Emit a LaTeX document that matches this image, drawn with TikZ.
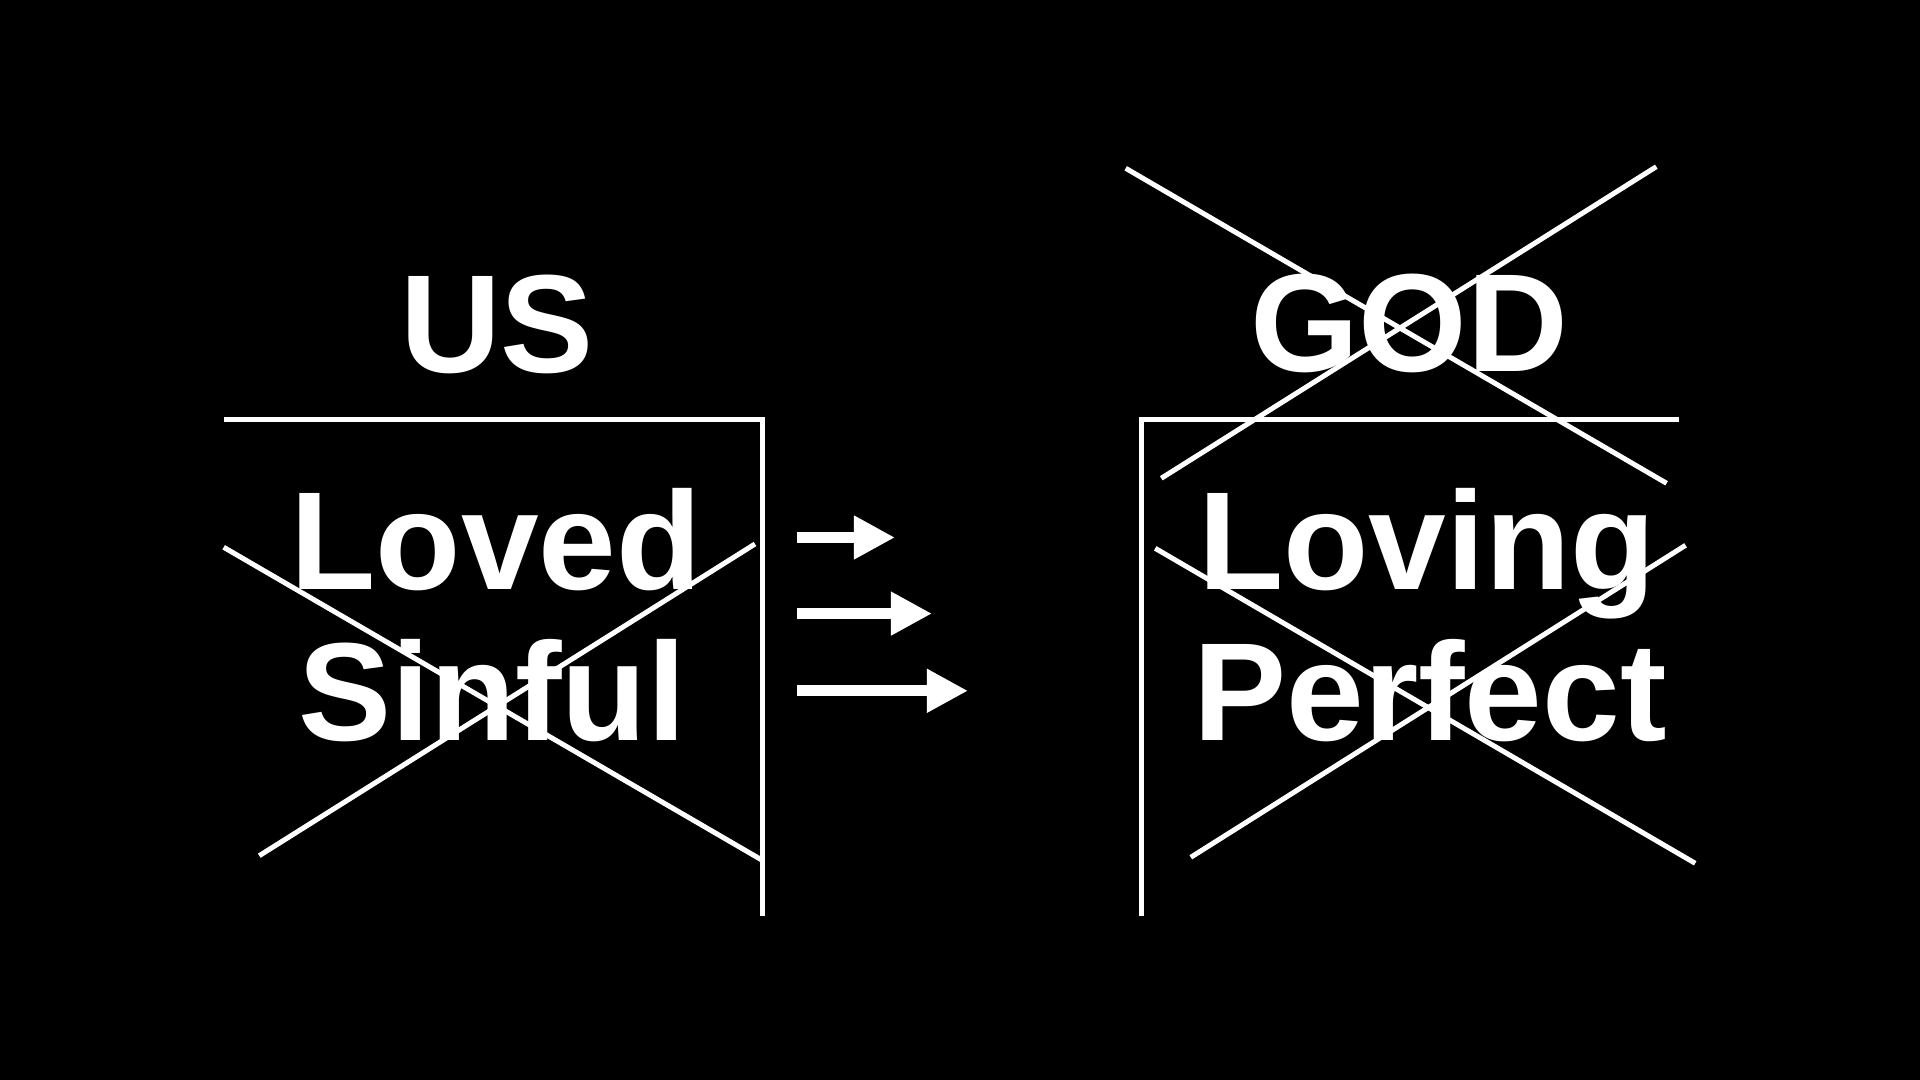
\documentclass[tikz,border=0pt]{standalone}
\usepackage{fontspec}
\setmainfont{Liberation Sans}
\usetikzlibrary{positioning,arrows.meta}
\tikzset{
	slide/.style={x=0.01cm,y=-0.01cm},
	word/.style={text=white,inner sep=0pt,anchor=base,
		font=\fontsize{39.7pt}{42pt}\selectfont\bfseries},
	frame/.style={draw=white,line width=0.05cm,line join=miter},
	cross/.style={draw=white,line width=0.05cm},
	push/.style={draw=white,fill=white,line width=0.11cm,
		-{Triangle[length=0.41cm,width=0.41cm]}}
}

\begin{document}
\begin{tikzpicture}[slide]
	
	\fill[black] (0,0) rectangle (1920,1080);
	\useasboundingbox (0,0) rectangle (1920,1080);
	
	\node[word] (us) at (497,373) {US};
	\node[word] (god) at (1409,372) {GOD};
	\node[word] (loved) at (496,590) {Loved};
	\node[word] (sinful) at ([xshift=-0.04cm,yshift=-1.5cm]loved.base) {Sinful};
	\node[word] (loving) at (1427,590) {Loving};
	\node[word] (perfect) at ([xshift=0.03cm,yshift=-1.5cm]loving.base) {Perfect};
	
	% brackets
	\draw[frame] (224,420) -- (762.4,420) -- (762.4,916);
	\draw[frame] (1679,420) -- (1141.3,420) -- (1141.3,916);
	
	% crossed out
	\draw[cross] (223.7,547.3) -- (761.8,860);
	\draw[cross] (259.3,855.7) -- (755,544);
	\draw[cross] (1155.2,548.3) -- (1695.2,863.3);
	\draw[cross] (1190.8,857.3) -- (1685.6,545.3);
	\draw[cross] (1125.7,168.3) -- (1666.6,483.3);
	\draw[cross] (1161.3,478.3) -- (1656.3,166.7);
	
	% arrows
	\coordinate (a1) at (796.7,537.5);
	\coordinate (a2) at (796.7,613.6);
	\coordinate (a3) at (796.7,690.8);
	\draw[push] (a1) -- ++(98.3,0);
	\draw[push] (a2) -- ++(135.3,0);
	\draw[push] (a3) -- ++(171.3,0);
	\end{tikzpicture}
\end{document}
